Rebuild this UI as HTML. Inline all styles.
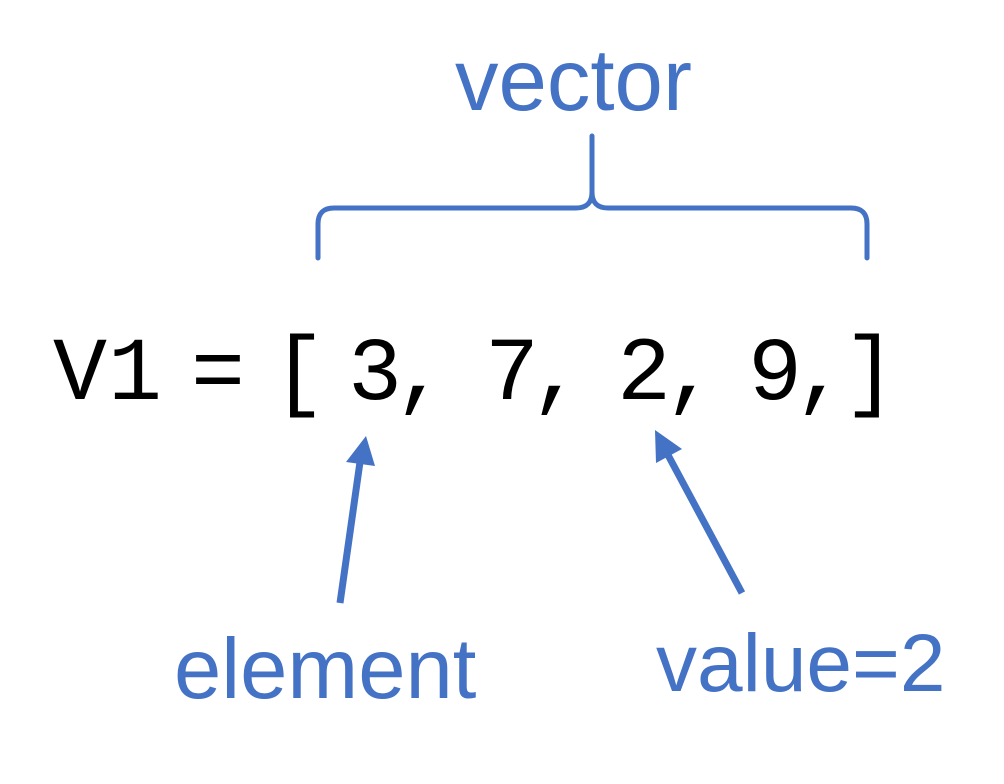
<!DOCTYPE html>
<html><head><meta charset="utf-8"><style>
html,body{margin:0;padding:0;background:#fff;}
#c{position:relative;width:1004px;height:784px;overflow:hidden;}
.m{position:absolute;font-family:"Liberation Mono",monospace;font-size:90px;color:#000;line-height:1;top:331px;}
.b{position:absolute;font-family:"Liberation Sans",sans-serif;color:#4472C4;line-height:1;}
</style></head><body><div id="c">
<svg width="1004" height="784" style="position:absolute;left:0;top:0">
<g fill="none" stroke="#4472C4" stroke-width="5" stroke-linecap="round">
<path d="M318 258 L318 224 Q318 208 334 208 L576 208 Q592 208 592 192 L592 136"/>
<path d="M867 258 L867 224 Q867 208 851 208 L608 208 Q592 208 592 192"/>
</g>
<g fill="none" stroke="#4472C4" stroke-width="7">
<path d="M340 603 L360 462"/>
<path d="M742 593 L668 455"/>
</g>
<polygon points="366,436 375,466 346,462" fill="#4472C4"/>
<polygon points="655,430 682,449 656,463" fill="#4472C4"/>
</svg>
<span class="m" style="left:53px">V</span>
<span class="m" style="left:108px">1</span>
<span class="m" style="left:191px">=</span>
<span class="m" style="left:272px">[</span>
<span class="m" style="left:348px">3</span>
<span class="m" style="left:394px">,</span>
<span class="m" style="left:485px">7</span>
<span class="m" style="left:530px">,</span>
<span class="m" style="left:617px">2</span>
<span class="m" style="left:664px">,</span>
<span class="m" style="left:748px">9</span>
<span class="m" style="left:794px">,</span>
<span class="m" style="left:843px">]</span>
<span class="b" style="left:455px;top:37px;font-size:87px">vector</span>
<span class="b" style="left:174px;top:627px;font-size:85px">element</span>
<span class="b" style="left:656px;top:623px;font-size:82px">value=2</span>
</div></body></html>
